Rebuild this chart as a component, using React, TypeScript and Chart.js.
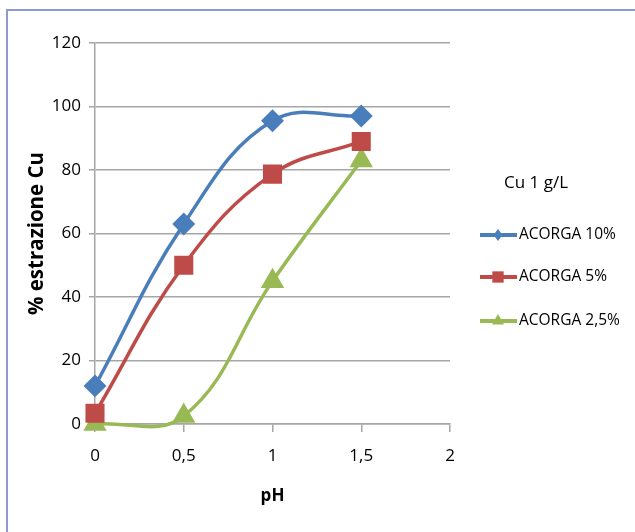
import React, { useEffect, useRef } from 'react';
import { Chart, registerables } from 'chart.js';
Chart.register(...registerables);

const xValues = [0, 0.5, 1, 1.5];
const acorga10 = [12, 63, 95.5, 97];
const acorga5 = [3.4, 50, 78.7, 89];
const acorga25 = [0, 2.5, 45, 83];
const seriesNames = ['ACORGA 10%', 'ACORGA 5%', 'ACORGA 2,5%'];
const seriesColors = ['#4a7ebb', '#be4b48', '#98b954'];
const seriesMarkers = ['rectRot', 'rect', 'triangle'];
const markerRadius = [9, 11, 10];
const legendMarkerRadius = [6, 8, 7];
const legendTitle = 'Cu 1 g/L';
const yTitle = '% estrazione Cu';
const xTitle = 'pH';

const FONT = '"Open Sans", "Noto Sans", sans-serif';

function drawMarker(ctx: CanvasRenderingContext2D, style: string, x: number, y: number, r: number, color: string) {
  ctx.save();
  ctx.fillStyle = color;
  ctx.beginPath();
  if (style === 'rectRot') {
    ctx.moveTo(x, y - r);
    ctx.lineTo(x + r * 0.75, y);
    ctx.lineTo(x, y + r);
    ctx.lineTo(x - r * 0.75, y);
  } else if (style === 'rect') {
    const s = r * Math.SQRT1_2;
    ctx.rect(x - s, y - s, 2 * s, 2 * s);
  } else {
    const w = r * Math.sqrt(3) / 2;
    ctx.moveTo(x, y - r);
    ctx.lineTo(x + w, y + r / 2);
    ctx.lineTo(x - w, y + r / 2);
  }
  ctx.closePath();
  ctx.fill();
  ctx.restore();
}

const legendPlugin = {
  id: 'customLegend',
  afterDraw(chart: any) {
    const ctx: CanvasRenderingContext2D = chart.ctx;
    ctx.save();
    ctx.fillStyle = '#000';
    ctx.textBaseline = 'middle';
    ctx.textAlign = 'left';
    ctx.font = `17px ${FONT}`;
    ctx.fillText(legendTitle, 504, 183);
    const ys = [235, 277, 321];
    chart.data.datasets.forEach((ds: any, i: number) => {
      const y = ys[i];
      ctx.strokeStyle = ds.borderColor;
      ctx.lineWidth = 4;
      ctx.beginPath();
      ctx.moveTo(480, y);
      ctx.lineTo(517, y);
      ctx.stroke();
      drawMarker(ctx, ds.pointStyle, 498, y, legendMarkerRadius[i], ds.borderColor);
      ctx.fillStyle = '#000';
      ctx.font = `15.5px ${FONT}`;
      ctx.fillText(ds.label, 519, y);
    });
    ctx.restore();
  },
};

export default function App() {
  const ref = useRef<HTMLCanvasElement>(null);
  useEffect(() => {
    if (!ref.current) return;
    const all = [acorga10, acorga5, acorga25];
    const chart = new Chart(ref.current, {
      type: 'line',
      data: {
        datasets: all.map((vals, i) => ({
          label: seriesNames[i],
          data: xValues.map((x, j) => ({ x, y: vals[j] })),
          borderColor: seriesColors[i],
          backgroundColor: seriesColors[i],
          pointBackgroundColor: seriesColors[i],
          pointBorderColor: seriesColors[i],
          pointStyle: seriesMarkers[i] as any,
          pointRadius: markerRadius[i],
          borderWidth: 3.5,
          tension: 0.4,
          fill: false,
        })),
      },
      options: {
        animation: false,
        responsive: false,
        clip: false as any,
        elements: { line: { capBezierPoints: false } },
        layout: { padding: { left: 0, right: 185, top: 43, bottom: 0 } },
        plugins: { legend: { display: false }, tooltip: { enabled: false } },
        scales: {
          x: {
            type: 'linear',
            min: 0,
            max: 2,
            afterFit: (s: any) => { s.height = 108; },
            grid: { drawOnChartArea: false, color: '#a6a6a6', tickLength: 8, lineWidth: 1.5 },
            border: { color: '#a6a6a6', width: 1.5 },
            ticks: {
              stepSize: 0.5,
              color: '#000',
              padding: 14,
              font: { family: FONT, size: 17 },
              callback: (v: any) => String(v).replace('.', ','),
            },
            title: {
              display: true,
              text: xTitle,
              color: '#000',
              font: { family: FONT, size: 17, weight: 'bold' },
              padding: { top: 0, bottom: 26 },
            },
          },
          y: {
            min: 0,
            max: 120,
            afterFit: (s: any) => { s.width = 95; },
            grid: { color: '#a6a6a6', tickLength: 6, lineWidth: 1.5 },
            border: { color: '#a6a6a6', width: 1.5 },
            ticks: {
              stepSize: 20,
              color: '#000',
              padding: 8,
              font: { family: FONT, size: 17 },
            },
            title: {
              display: true,
              text: yTitle,
              color: '#000',
              font: { family: FONT, size: 20.5, weight: 'bold' },
              padding: { top: 25, bottom: 0 },
            },
          },
        },
      },
      plugins: [legendPlugin],
    });
    return () => chart.destroy();
  }, []);
  return (
    <div style={{ position: 'fixed', left: 0, top: 0, width: 635, height: 532, background: '#fff', overflow: 'hidden' }}>
      <div style={{ position: 'absolute', left: 6, top: 9, width: 700, height: 600, border: '2px solid #8e99d6' }} />
      <canvas ref={ref} width={635} height={532} style={{ position: 'absolute', left: 0, top: 0 }} />
    </div>
  );
}
